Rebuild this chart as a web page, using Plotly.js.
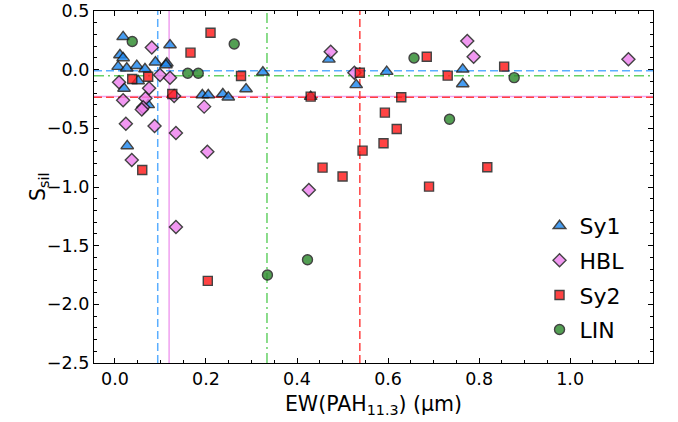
<!DOCTYPE html>
<html>
<head>
<meta charset="utf-8">
<script src="https://cdn.plot.ly/plotly-3.0.1.min.js"></script>
<style>html,body{margin:0;padding:0;background:#fff;}#chart{width:678px;height:422px;}</style>
</head>
<body>
<div id="chart"></div>
<script>
// ---- data ----
const categories = ["Sy1", "HBL", "Sy2", "LIN"];

const sy1_x = [0.018, 0.121, 0.011, 0.018, 0.007, 0.026, 0.048, 0.066, 0.089, 0.114, 0.112, 0.051, 0.020, 0.073, 0.027, 0.192, 0.205, 0.237, 0.249, 0.288, 0.325, 0.470, 0.530, 0.597, 0.764, 0.764, 0.430];
const sy1_y = [0.28, 0.21, 0.125, 0.10, 0.026, 0.012, 0.034, 0.006, 0.063, 0.055, 0.04, -0.096, -0.16, -0.30, -0.65, -0.216, -0.216, -0.207, -0.235, -0.165, -0.022, 0.088, -0.13, -0.017, 0.003, -0.122, -0.23];

const hbl_x = [0.081, 0.009, 0.099, 0.121, 0.075, 0.018, 0.067, 0.062, 0.059, 0.196, 0.024, 0.087, 0.134, 0.203, 0.037, 0.134, 0.130, 0.474, 0.526, 0.426, 0.774, 0.788, 1.128];
const hbl_y = [0.188, -0.107, -0.045, -0.068, -0.159, -0.26, -0.244, -0.32, -0.34, -0.315, -0.46, -0.48, -0.54, -0.70, -0.77, -1.34, -0.225, 0.153, -0.026, -1.026, 0.245, 0.11, 0.089];

const sy2_x = [0.210, 0.166, 0.038, 0.073, 0.277, 0.126, 0.060, 0.204, 0.430, 0.538, 0.685, 0.731, 0.629, 0.593, 0.619, 0.590, 0.544, 0.456, 0.500, 0.818, 0.690, 0.855];
const sy2_y = [0.315, 0.145, -0.079, -0.06, -0.054, -0.207, -0.855, -1.80, -0.23, -0.026, 0.11, -0.051, -0.235, -0.366, -0.506, -0.627, -0.69, -0.835, -0.91, -0.832, -0.997, 0.026];

const lin_x = [0.038, 0.262, 0.160, 0.183, 0.657, 0.877, 0.735, 0.335, 0.423];
const lin_y = [0.24, 0.219, -0.031, -0.031, 0.10, -0.068, -0.423, -1.75, -1.62];

// median reference lines per class
const vline_x = [0.094, 0.119, 0.538, 0.334];   // Sy1, HBL, Sy2, LIN
const hline_y = [-0.01, -0.228, -0.235, -0.051]; // Sy1, HBL, Sy2, LIN

// ---- styles ----
const fills = ["#1e88f0", "#ee82ee", "#ff1a1a", "#2e8b2e"];
const lineCols = ["#5aaeff", "#f0a0f0", "#ff4040", "#66d166"];
const dashes = ["8px,4px", "solid", "8px,4px", "10px,4px,2px,4px"];
const symbols = ["triangle-up", "diamond", "square", "circle"];
const sizes = [11, 10, 9, 10];
const xs = [sy1_x, hbl_x, sy2_x, lin_x];
const ys = [sy1_y, hbl_y, sy2_y, lin_y];

const traces = categories.map((c, i) => ({
  type: "scatter", mode: "markers", name: c, x: xs[i], y: ys[i],
  legendgroup: c,
  marker: {symbol: symbols[i], size: sizes[i], color: fills[i], opacity: 0.82,
           line: {color: "#1a1a1a", width: 1.4}},
  hoverinfo: "x+y"
}));

// draw order of lines: violet solid below red dashed
const order = [1, 0, 3, 2];
const shapes = [];
order.forEach(i => {
  shapes.push({type: "line", xref: "x", yref: "paper", x0: vline_x[i], x1: vline_x[i], y0: 0, y1: 1,
               layer: "below", line: {color: lineCols[i], width: 1.5, dash: dashes[i]}});
  shapes.push({type: "line", xref: "paper", yref: "y", x0: 0, x1: 1, y0: hline_y[i], y1: hline_y[i],
               layer: "below", line: {color: lineCols[i], width: 1.5, dash: dashes[i]}});
});

const font = "DejaVu Sans, Liberation Sans, sans-serif";
const layout = {
  width: 678, height: 422,
  margin: {l: 94, r: 25, t: 11, b: 59},
  paper_bgcolor: "#fff", plot_bgcolor: "#fff",
  font: {family: font, size: 17, color: "#000"},
  showlegend: true,
  legend: {x: 0.797, y: 0.449, xanchor: "left", yanchor: "top", bgcolor: "rgba(0,0,0,0)",
           font: {family: font, size: 22, color: "#000"}, tracegroupgap: 3},
  xaxis: {
    range: [-0.046, 1.182], dtick: 0.2, tick0: 0, tickformat: ".1f",
    ticks: "inside", ticklen: 5, tickwidth: 1, tickcolor: "#000",
    minor: {dtick: 0.05, ticks: "inside", ticklen: 3, tickcolor: "#000"},
    showline: true, linecolor: "#000", linewidth: 1.2, mirror: "allticks",
    showgrid: false, zeroline: false,
    tickfont: {size: 17.5},
    title: {text: "EW(PAH<sub>11.3</sub>) (μm)", font: {size: 20.5}, standoff: 8}
  },
  yaxis: {
    range: [-2.5, 0.5], dtick: 0.5, tick0: 0, tickformat: ".1f",
    ticks: "inside", ticklen: 5, tickwidth: 1, tickcolor: "#000",
    minor: {dtick: 0.1, ticks: "inside", ticklen: 3, tickcolor: "#000"},
    showline: true, linecolor: "#000", linewidth: 1.2, mirror: "allticks",
    showgrid: false, zeroline: false,
    tickfont: {size: 17.5}
  },
  annotations: [{
    text: "S<sub>sil</sub>", xref: "paper", yref: "paper", x: 0, y: 0.5,
    xanchor: "center", yanchor: "middle", xshift: -55, textangle: -90, showarrow: false,
    font: {family: font, size: 20.5, color: "#000"}
  }],
  shapes: shapes
};

Plotly.newPlot("chart", traces, layout, {displayModeBar: false, staticPlot: true});
</script>
</body>
</html>
